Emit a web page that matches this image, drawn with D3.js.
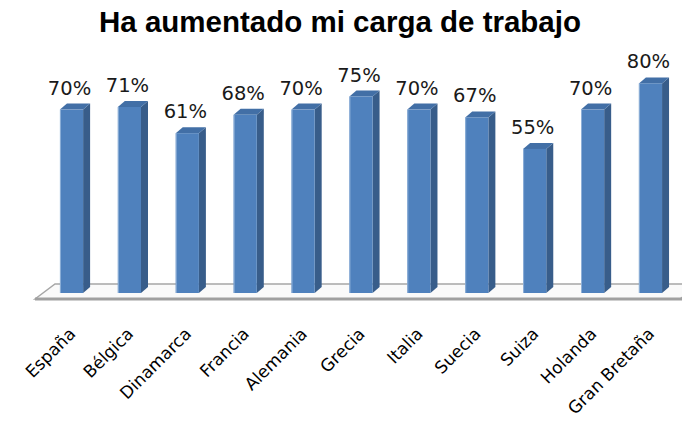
<!DOCTYPE html>
<html>
<head>
<meta charset="utf-8">
<script src="https://cdn.jsdelivr.net/npm/d3@7"></script>
<style>
  body { margin: 0; background: #fff; }
  svg { display: block; }
</style>
</head>
<body>
<div id="chart"></div>
<script>
const countries = ["España", "Bélgica", "Dinamarca", "Francia", "Alemania", "Grecia",
  "Italia", "Suecia", "Suiza", "Holanda", "Gran Bretaña"];
const values = [70, 71, 61, 68, 70, 75, 70, 67, 55, 70, 80];
const titleText = "Ha aumentado mi carga de trabajo";

const width = 682;
const height = 423;
const COLOR_FRONT = "#4f81bd";
const COLOR_SIDE = "#385d8a";
const COLOR_TOP = "#426fa6";
const depthX = 7;
const depthY = 6;

const svg = d3.select("#chart")
  .append("svg")
  .attr("width", width)
  .attr("height", height);

// title
svg.append("text")
  .attr("x", 340)
  .attr("y", 32)
  .attr("text-anchor", "middle")
  .attr("font-family", "Liberation Sans, Arial, sans-serif")
  .attr("font-weight", "bold")
  .attr("font-size", 29.5)
  .attr("fill", "#000")
  .text(titleText);

const x = d3.scaleBand()
  .domain(countries)
  .range([31, 691])
  .paddingInner(0.6)
  .paddingOuter(0.5);

const y = d3.scaleLinear()
  .domain([0, 100])
  .range([293, 31]);

// floor
const floorFront = 299, floorBack = 284;
svg.append("path")
  .attr("d", `M35,${floorFront} L55,${floorBack} L700,${floorBack} L680,${floorFront} Z`)
  .attr("fill", "#fafafa")
  .attr("stroke", "#a6a6a6")
  .attr("stroke-width", 1.5);
svg.append("line")
  .attr("x1", 35).attr("x2", 682)
  .attr("y1", floorFront).attr("y2", floorFront)
  .attr("stroke", "#a0a0a0")
  .attr("stroke-width", 3);

const bars = svg.selectAll(".bar")
  .data(countries.map((c, i) => ({ country: c, value: values[i] })))
  .enter()
  .append("g")
  .attr("class", "bar");

const bw = x.bandwidth();

// side face
bars.append("path")
  .attr("d", d => {
    const x0 = x(d.country) + bw, yt = y(d.value), yb = y(0);
    return `M${x0},${yt} L${x0 + depthX},${yt - depthY} L${x0 + depthX},${yb - depthY} L${x0},${yb} Z`;
  })
  .attr("fill", COLOR_SIDE);

// top face
bars.append("path")
  .attr("d", d => {
    const x0 = x(d.country), yt = y(d.value);
    return `M${x0},${yt} L${x0 + depthX},${yt - depthY} L${x0 + bw + depthX},${yt - depthY} L${x0 + bw},${yt} Z`;
  })
  .attr("fill", COLOR_TOP);

// front face
bars.append("rect")
  .attr("x", d => x(d.country))
  .attr("y", d => y(d.value))
  .attr("width", bw)
  .attr("height", d => y(0) - y(d.value))
  .attr("fill", COLOR_FRONT);

bars.append("line")
  .attr("x1", d => x(d.country) + 0.5)
  .attr("x2", d => x(d.country) + 0.5)
  .attr("y1", d => y(d.value))
  .attr("y2", y(0))
  .attr("stroke", "#8fb0d8")
  .attr("stroke-width", 1);

// value labels
bars.append("text")
  .attr("x", d => x(d.country) + bw / 2 - 2)
  .attr("y", d => y(d.value) - 15)
  .attr("text-anchor", "middle")
  .attr("font-family", "DejaVu Sans, Verdana, sans-serif")
  .attr("font-size", 19.5)
  .attr("fill", "#1a1a1a")
  .text(d => d.value + "%");

// category labels
svg.selectAll(".cat")
  .data(countries)
  .enter()
  .append("text")
  .attr("class", "cat")
  .attr("text-anchor", "end")
  .attr("font-family", "DejaVu Sans, Verdana, sans-serif")
  .attr("font-size", 17)
  .attr("fill", "#000")
  .attr("transform", d => `translate(${x(d) + bw / 2 + 5},335) rotate(-45)`)
  .text(d => d);
</script>
</body>
</html>
